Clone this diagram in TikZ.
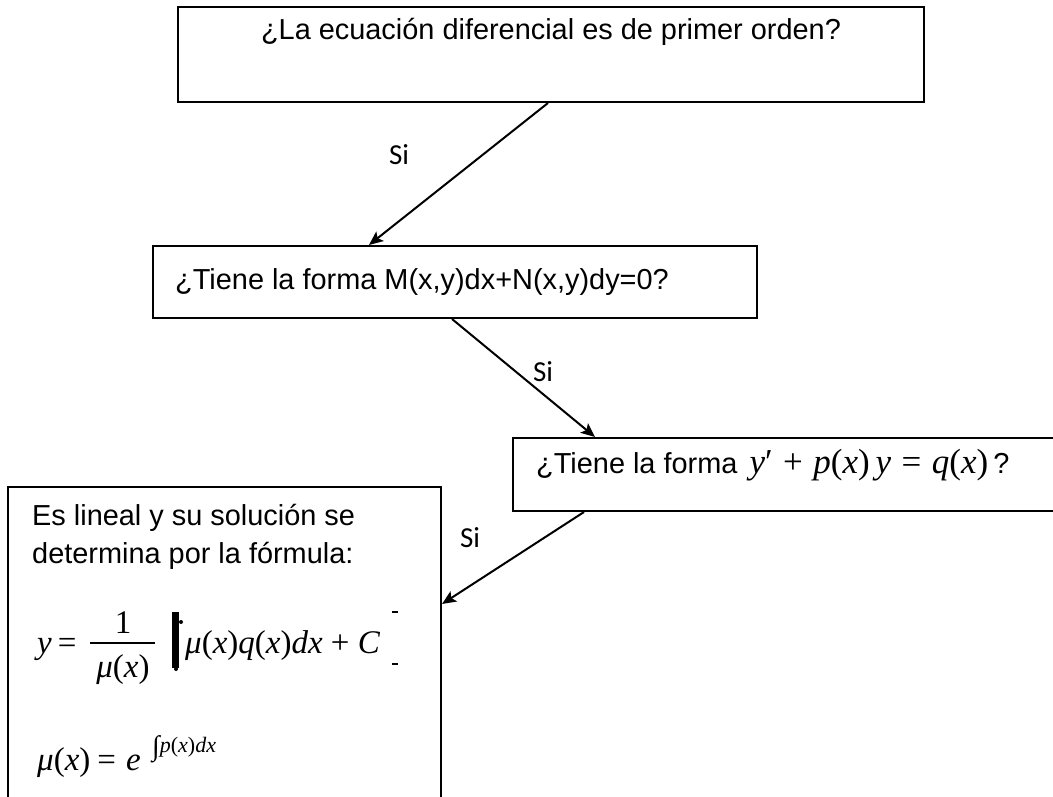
\documentclass[tikz,border=0pt]{standalone}
\usepackage{fontspec}
\setmainfont{Liberation Sans}
\newfontfamily\tnr{Liberation Serif}
\newfontfamily\sifont{Carlito}
\usetikzlibrary{arrows.meta}

% italic variable / sizes for the formulas
\newcommand\vv[1]{{\itshape #1\/}}
\newcommand\txt{\fontsize{28.9}{34}\selectfont}
\newcommand\mth{\tnr\fontsize{33}{38}\selectfont}
\newcommand\mthb{\tnr\fontsize{35}{40}\selectfont}
\newcommand\sml{\tnr\fontsize{22}{26}\selectfont}
\newcommand\op[1]{\hspace{0.3em}#1\hspace{0.3em}}

\tikzset{
  qbox/.style={draw, line width=2pt, rectangle, inner sep=0pt},
  link/.style={line width=2pt, -{Stealth[length=14pt,width=12pt,inset=3pt]}},
  lbl/.style={inner sep=0pt, font=\txt},
  yes/.style={inner sep=0pt, font=\sifont\fontsize{29}{34}\selectfont},
  frm/.style={inner sep=0pt, font=\mth},
}

\begin{document}
\begin{tikzpicture}[x=1pt, y=-1pt]
  \useasboundingbox (0,0) rectangle (1053,797);
  \clip (0,0) rectangle (1053,797);

  % question boxes
  \node[qbox, minimum width=746pt, minimum height=95pt]  (b1) at (551,54.5) {};
  \node[qbox, minimum width=604pt, minimum height=72pt]  (b2) at (455,282) {};
  \node[qbox, minimum width=560pt, minimum height=73pt]  (b3) at (793,474.5) {};
  \node[qbox, minimum width=433pt, minimum height=330pt] (b4) at (224.5,652) {};

  % box texts
  \node[lbl, anchor=base] (t1) at (551,40) {¿La ecuación diferencial es de primer orden?};
  \node[lbl, anchor=base west] (t2) at (175,289) {¿Tiene la forma M(x,y)dx+N(x,y)dy=0?};
  \node[lbl, anchor=base west] (t3) at (536,473)
    {¿Tiene la forma\hspace{12pt}{\mthb\vv{y}′\op{+}\vv{p}(\vv{x})\,\vv{y}\op{=}\vv{q}(\vv{x})}\hspace{5pt}?};
  \node[lbl, anchor=base west] (t4a) at (32,525) {Es lineal y su solución se};
  \node[lbl, anchor=base west] (t4b) at (32,563) {determina por la fórmula:};

  % solution formula
  \node[frm, anchor=base west] (fy) at (37,653) {\vv{y}\hspace{6pt}=};
  \coordinate (barl) at (90,643);
  \coordinate (barr) at (155,643);
  \draw[line width=1.5pt] (barl) -- (barr);
  \node[frm, anchor=base] (fnum) at (123,633) {1};
  \node[frm, anchor=base] (fden) at (123,677) {\vv{μ}(\vv{x})};
  \fill (172,612) rectangle (179,668);
  \fill (181,622) circle (2pt);
  \fill (176,669) circle (2pt);
  \node[frm, anchor=base west] (fint) at (185,653) {\vv{μ}(\vv{x})\vv{q}(\vv{x})\vv{dx} + \vv{C}};
  \draw[line width=2pt] (392,612) -- (398,612);
  \draw[line width=2pt] (392,664) -- (398,664);

  \node[frm, anchor=base west] (fmu) at (37,770) {\vv{μ}(\vv{x})\hspace{7pt}=\hspace{10pt}\vv{e}};
  \node[inner sep=0pt, anchor=base west] (fexp) at (152,752)
    {{\tnr\fontsize{28}{30}\selectfont\raisebox{-3pt}{∫}}{\sml\vv{p}(\vv{x})\vv{dx}}};

  % connectors
  \draw[link] ([xshift=371pt]b1.south west) -- ([xshift=217pt]b2.north west);
  \draw[link] ([xshift=300pt]b2.south west) -- ([xshift=83pt]b3.north west);
  \draw[link] ([xshift=72pt]b3.south west) -- ([yshift=-118pt]b4.north east);

  % answer labels
  \node[yes] (s1) at (399,155) {Si};
  \node[yes] (s2) at (543,372) {Si};
  \node[yes] (s3) at (470,538) {Si};
\end{tikzpicture}
\end{document}
